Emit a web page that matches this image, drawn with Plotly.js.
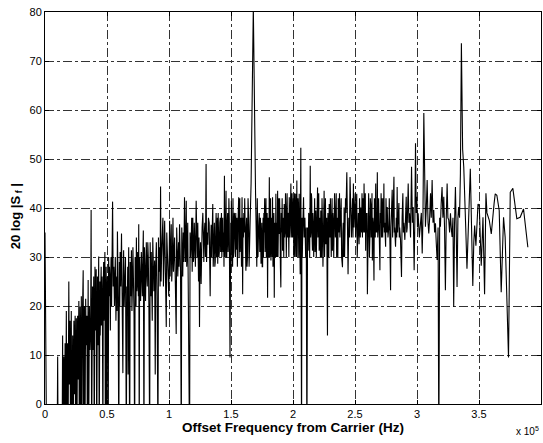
<!DOCTYPE html>
<html>
<head>
<meta charset="utf-8">
<script src="https://cdn.plot.ly/plotly-3.0.1.min.js"></script>
<style>
html,body{margin:0;padding:0;background:#fff;}
#chart{width:543px;height:443px;}
</style>
</head>
<body>
<div id="chart"></div>
<script>
// [offset frequency (kHz), 20 log |S_f| (dB)]; values below 0 dB fall off the plot bottom
const segLow = [
[0,35],[0.4,26.5],[0.8,15.8],[1.3,-10],[9.8,-10],[10.2,9.7],[10.6,-10],[13.8,-10],[14.2,14],[14.6,-10],
[15.2,9.7],[15.6,-10],[16.2,12.4],[16.6,-10],[17.2,19],[17.6,-10],[18.2,12.4],[18.6,-10],[19.2,25],[19.6,4],
[20.2,17],[20.6,-10],[21.2,19],[21.6,-10],[22.3,14],[22.7,-10],[23.3,17],[23.7,2],[24.3,18],[24.7,-10],
[25.3,17.5],[25.7,-10],[26.3,18],[26.7,5],[27.3,21],[27.7,-10],[28.3,19.9],[28.7,-10],[29.3,22],[29.7,-10],
[30.3,20],[30.8,27.3],[31.2,-10],[31.8,20],[32.2,-10],[32.8,21.5],[33.2,12],[33.8,18],[34.2,-10],[34.8,25.3],
[35.2,-10],[35.8,20],[36.3,11],[36.8,15],[37.2,39.6],[37.6,-10],[38.3,24],[38.7,11],[39.3,26],[39.7,-10],
[40.3,28],[40.7,15],[41.3,27.5],[41.7,-10],[42.3,26],[42.7,12],[43.3,30.1],[43.7,-10]
];
const segRise = [
[44.3,25],[44.5,14],[44.7,17],[45,24],[45.3,28],[45.5,16],[45.7,20],[46,26],[46.3,18],[46.7,-10],
[47,24],[47.3,29],[47.5,17],[47.7,20],[48,27],[48.3,31],[48.7,-10],[49,22],[49.3,28],[49.7,-10],
[50,21],[50.3,26],[50.7,18],[51,-10],[51.3,30],[51.7,22],[52,28],[52.3,25],[52.7,15],[53,26],
[53.3,30],[53.7,20],[54.1,27],[54.5,41.3],[55,24],[55.5,28],[56,20],[56.35,27],[56.7,30],[57.2,17],
[57.8,26],[58.1,19],[58.4,35.2],[59,22],[59.5,-10],[60,29],[60.3,20],[60.6,31],[61.1,24],[61.7,34.8],
[62.2,20],[62.8,6.3],[63.1,24],[63.4,31.4],[63.85,20],
[64.3,25],[64.9,30],[65.6,-10],[66,24],[66.4,20],[66.7,28],[67,6],[67.25,26],[67.5,32],[67.9,21],
[68.3,-10],[68.7,29],[69.1,22],[69.4,27],[69.7,31.4],[70.1,19],[70.5,24],[70.9,32],[71.3,28],[71.8,18],
[72.3,-10],[72.7,30],[73.1,27],[73.4,20],[73.7,34],[74.1,23],[74.5,25],[74.75,31],[75,29],[75.3,22],
[75.6,36.7],[76,-10],[76.3,30],[76.6,27],[77.1,21],[77.7,31],[78.1,26],[78.5,22],[78.9,30],[79.3,35.4],
[79.8,-10],[80.2,32],[80.6,28],[81.1,21],[81.7,33],[82.1,27],[82.5,24],[82.9,33],[83.3,30],[83.8,20],
[84.4,-10],[84.8,33],[85.2,27],[85.45,22],[85.7,31],[86.1,25],[86.5,17],[86.9,34],[87.3,30],[87.8,23],
[88.4,29.3],[88.9,6],[89.3,28],[89.8,33],[90.4,22],[91.1,-10],[91.5,34],[91.9,27],[92.4,32],[92.8,24],
[93.2,44.4],[93.6,25],[94,30],[94.5,34],[95.1,38],[95.5,24],[95.9,28],[96.2,33],[96.5,37.4],[97.1,27],
[97.8,15.7],[98.2,35],[98.6,30],[99.1,29],[99.8,22],[100.5,37.4],[100.9,26],[101.3,31],[101.8,36.7],[102.2,25],
[102.6,28],[103.2,38],[103.6,27],[104,30],[104.5,34],[105.1,25],[105.8,14.3],[106.2,36],[106.6,30],[107.1,26],
[107.7,33],[108.1,28],[108.5,36.7],[108.9,31],[109.3,27],[109.9,-10],[110.3,36],[110.7,30],[111.1,26],[111.5,35],
[112,29],[112.5,42.2],[112.9,33],[113.3,29],[113.9,41.5],[114.3,28],[114.7,31],[115.1,37],[115.5,25],[116.6,-10],
[117,35],[117.4,30],[117.9,33.2],[118.3,38],[118.7,27],[119.2,38],[119.6,29],[120,30],[120.4,37],[120.8,34],
[121.3,28],[121.9,41.5],[122.3,33],[122.7,30],[123.2,37],[123.8,25],[124.2,34],[124.6,15.7],[125,30],[125.4,33],
[125.9,24.5],[126.3,32],[126.7,36],[127.3,39],[127.7,31],[128.1,29],[128.5,35],[128.9,37],[129.4,30],[129.9,49],
[130.3,29],[130.8,35],[131.3,32.5],[131.8,38],[132.4,37],[132.8,30],[133.2,22],[133.6,33],[134,36.6],[134.4,30],
[134.8,33],[135.3,40.8]
];
const segMid = [
[135.65,28],[136,30],[136.3,34],[136.6,37],[136.95,28],[137.3,29],[137.65,35],[138,39],[138.35,30],[138.7,30],
[139,38],[139.3,28.6],[139.65,39],[140,36],[140.3,30],[140.6,31],[140.95,37],[141.3,38],[141.65,31],[142,34],
[142.3,39],[142.6,30],[142.95,35],[143.3,38],[143.65,31],[144,35],[144.35,28],[144.7,46.6],[145,31],[145.3,30],
[145.65,38],[146,43.5],[146.3,30],[146.6,30],[146.95,37],[147.3,39],[147.65,31],[148,34],[148.3,42],[148.6,38],
[149.2,9.5],[149.5,30],[149.8,37],[150.05,28],[150.3,41.5],[150.65,30],[151,36],[151.3,28],[151.6,42],[151.95,30],
[152.3,34],[152.65,39],[153,38],[153.3,31],[153.6,30],[153.85,39],[154.1,31.5],[154.45,35],[154.8,38],[155.15,28],
[155.5,35],[155.85,39],[156.2,42.2],[156.55,30],[156.9,36],[157.1,42],[157.3,31],[157.65,37],[158,38],[158.45,28],
[158.9,42.2],[159.4,22.4],[159.7,38],[160,34],[160.35,39],[160.7,35],[161.05,42],[161.4,30],[161.7,37],[162,27.2],
[162.3,36],[162.6,38],[162.95,28],[163.3,30],[163.75,42],[164.2,38],[164.6,28],[165,36],[165.5,38],[166.2,45],
[168,81],[169.8,43],[170.4,36],[170.8,28],[171.2,42],[171.75,30],[172.3,36],[172.75,39],[173.2,31],[173.7,38],
[174.2,28.6],[174.8,37],[175.15,28],[175.5,28],[175.85,38],[176.2,30],[176.5,39],[176.8,35],[177.15,42],[177.5,31],
[177.85,36],[178.2,42],[178.5,30],[178.8,34],[179.15,39],[179.5,21.7],[179.85,38],[180.2,35],[180.55,30],[180.9,46.3],
[181.25,30],[181.6,36],[181.9,42],[182.2,29.3],[182.55,36],[182.9,38],[183.2,30],[183.5,42.2],[183.85,28],[184.2,34],
[184.55,39],[184.9,21.7],[185.2,37],[185.5,36],[185.85,30],[186.2,42.9],[186.55,30],[186.9,37],[187.25,30],[187.6,43.5],
[187.9,30],[188.2,36],[188.55,42],[188.9,34.7],[189.2,42],[189.5,38],[189.85,28],[190.2,23.8],[190.55,39],[190.9,35],
[191.25,42],[191.6,31.3],[191.9,38],[192.2,37],[192.55,30],[192.9,40.8],[193.25,34],[193.6,35],[193.95,43],[194.3,39.5],
[194.6,30],[194.9,37],[195.25,43],[195.6,34],[195.95,39],[196.3,38],[196.65,30],[197,42.2],[197.3,34],[197.6,36],
[197.95,42],[198.3,45],[198.6,34],[198.9,37],[199.25,43],[199.6,34],[199.95,37]
];
const segUpper = [
[200.3,42],[200.65,30],[201,38],[201.3,43],[201.6,30],[201.95,37],[202.3,42.9],[202.7,30],[203.1,45.6],[203.35,30],
[203.6,35],[203.95,42],[204.3,39],[204.65,30],[205,42.9],[205.4,35],[205.8,26.5],[206.3,52.3],[206.9,-10],[207.2,38],
[207.5,30],[208,37],[208.5,42.2],[209,34],[209.6,38],[210.2,30],[210.7,36],[211.2,-10],[211.75,36],[212.3,31.3],
[212.65,39],[213,38],[213.45,30],[213.9,48.6],[214.2,34],[214.5,35],[214.8,43],[215.1,42],[215.4,34],[215.7,31.3],
[216,39],[216.3,37],[216.7,30],[217.1,36.7],[217.45,42],[217.8,31],[218.1,37],[218.4,39.5],[218.8,30],[219.2,35],
[219.5,42],[219.8,44.2],[220.1,34],[220.4,37],[220.75,43],[221.1,31.3],[221.45,36],[221.8,38],[222.1,30],[222.4,39.5],
[222.7,36],[223,30],[223.4,42],[223.8,36],[224.15,28],[224.5,42],[224.8,35],[225.1,43.5],[225.45,30],[225.8,35],
[226.15,42],[226.5,32.6],[226.85,37],[227.2,38],[227.8,14],[228.15,39],[228.5,36],[228.85,30],[229.2,40.8],[229.5,36],
[229.8,34],[230.15,42],[230.5,36],[230.85,30],[231.2,38],[231.5,42],[231.8,31.3],[232.15,39],[232.5,37],[232.85,30],
[233.2,36],[233.5,43],[233.8,39],[234.15,34],[234.5,38.1],[234.85,43],[235.2,30],[235.5,38],[235.8,36],[236.15,30],
[236.5,42],[236.85,35],[237.2,37.4],[237.5,43],[237.8,34],[238.15,37],[238.5,38.1],[238.85,42],[239.2,30],[239.9,27.9],
[240.2,35],[240.5,37],[240.85,30],[241.2,40.1],[241.6,30],[242,36],[242.35,42],[242.7,39],[243.4,47.3],[243.9,35],
[244.4,26.5],[245,38],[245.5,34],[246,46.3],[246.5,35],[246.8,39],[247.1,34],[247.55,38],[248,42],[248.35,34],
[248.7,45],[249.2,36],[249.5,42],[249.8,38.1],[250.15,43],[250.5,34],[250.95,39],[251.4,42.9],[251.8,30],[252.2,36],
[252.7,39],[253,36],[253.3,32.6],[253.65,42],[254,38],[254.3,34],[254.6,40.1],[254.95,36],[255.3,35],[255.65,43],
[256,34],[256.35,42],[256.7,39],[257,35],[257.3,45],[257.65,35],[258,37],[258.3,43],[258.6,31.3],[258.95,39],
[259.3,35],[259.65,39],[260,22.4],[260.35,37],[260.7,36],[261,43],[261.3,38.1],[261.65,30],[262,34],[262.35,42],
[262.7,40.8],[263.05,34],[263.4,36],[263.7,43],[264,29.3],[264.35,38],[264.7,37],[265,30],[265.3,25.2],[265.65,42],
[266,38],[266.35,34],[266.7,45],[267.05,35],[267.4,39],[267.7,35],[268,47.3],[268.35,34],[268.7,36],[269.05,42],
[269.4,31.3],[270.1,27.3],[270.4,39],[270.7,37],[271.05,43],[271.4,34],[271.7,42],[272,38.1],[272.35,34],[272.7,42],
[273,36],[273.3,45],[273.65,35],[274,37],[274.7,32.1],[275,42],[275.3,38],[275.65,35],[276,40.2],[276.6,34],
[277.3,36.2],[277.65,42],[278,31],[278.7,23.2],[279,36],[279.3,38],[280,43.7],[280.35,34],[280.7,37],[281.4,46.4],
[281.7,35],[282,36],[282.7,32.1],[283.3,38],[283.65,34],[284,44.3],[284.35,35],[284.7,37],[285.4,41],[285.7,34],
[286,36],[286.7,33.5],[287.5,25.9],[288,38],[288.6,43],[289,35],[289.4,37],[290.2,33.5],[290.8,38],[291.3,42.3],
[291.7,35],[292.1,36],[292.9,45],[293.5,37],[294,38.9],[294.8,34],[295.6,48.4],[296.3,37],[296.9,40.2],[297.7,27.3],
[298.3,38],[298.8,53.2],[299.4,39],[299.9,42.3]
];
const segHigh = [
[300.4,36],[300.9,38.9],[301.9,34],[302.8,36.2],[303.5,39],[304.2,30.7],[304.8,38],[305.5,59.4],[306.2,38],[306.8,36.2],
[307.5,40],[308.2,45.7],[308.9,37],[309.5,34.8],[310.2,38],[310.9,43],[311.5,38],[312.2,45.7],[312.9,37],[313.5,39.6],
[314.2,35],[314.9,36.9],[315.5,33],[316.2,29.4],[317,36],[317.6,-10],[318.3,38],[318.9,36.2],[319.5,41],[320.2,44.3],
[320.9,38],[321.6,42.3],[322.2,36],[322.9,23.2],[323.6,38],[324.3,45],[324.9,38],[325.6,37.6],[326.3,35],[327,38.9],
[327.6,36],[328.3,34.1],[329,38],[329.6,19.8],[330.3,37],[331,44.3],[331.6,36],[332.3,23.9],[333,38],[333.6,40.2],
[334.3,38],[335,47],[335.8,73.6],[336.8,52],[337.7,48.4],[338.4,40.1],[339.3,36],[340.3,27.6],[341.6,38],[343,48],
[344,36],[345,24.1],[345.8,33],[346.5,36.4],[347.5,32.3],[348.3,38],[349.2,40.8],[350.2,40.5],[351,35],[351.8,28.2],
[352.5,33],[353.2,38.1],[354.5,22.4],[355.6,43],[356.4,39],[357.2,38.1],[358.3,37.5],[359.9,34.7],[361.2,39],[362.2,41],
[363.1,42.9],[364.4,42.6],[366.3,39.5],[367.9,22.8],[369.8,38.1],[371.1,34],[373.8,9.5],[375.2,43.2],[377.3,44],[380.5,37.8],
[383.2,38.1],[385.9,39.8],[389.4,32]
];
const xTickVals = [0,50,100,150,200,250,300,350,400];
const xTickText = ['0','0.5','1','1.5','2','2.5','3','3.5','4'];
const yTickVals = [0,10,20,30,40,50,60,70,80];

const allPts = segLow.concat(segRise, segMid, segUpper, segHigh);
const fontFam = '"Liberation Sans", Arial, Helvetica, sans-serif';

const trace = {
  x: allPts.map(p => p[0]), y: allPts.map(p => p[1]),
  type: 'scatter', mode: 'lines',
  line: {color: '#000', width: 1.1}, hoverinfo: 'skip'
};

const axisCommon = {
  showline: true, linecolor: '#000', linewidth: 1, mirror: 'ticks',
  ticks: 'inside', ticklen: 4, tickcolor: '#000', tickwidth: 1,
  showgrid: true, gridcolor: '#333', gridwidth: 1, griddash: 'dashdot',
  zeroline: false, tickfont: {family: fontFam, size: 11, color: '#000'}
};

const layout = {
  width: 543, height: 443,
  margin: {l: 45, r: 2, t: 12, b: 39},
  paper_bgcolor: '#fff', plot_bgcolor: '#fff',
  showlegend: false,
  xaxis: Object.assign({}, axisCommon, {
    range: [0, 400], tickmode: 'array', tickvals: xTickVals, ticktext: xTickText
  }),
  yaxis: Object.assign({}, axisCommon, {
    range: [0, 80], tickmode: 'array', tickvals: yTickVals
  }),
  annotations: [
    {text: '<b>Offset Frequency from Carrier (Hz)</b>', xref: 'paper', yref: 'paper',
     x: 0.5, y: -0.0587, xanchor: 'center', yanchor: 'middle', showarrow: false,
     font: {family: fontFam, size: 13.5, color: '#000'}},
    {text: '<b>20 log |S<sub> f</sub> |</b>', xref: 'paper', yref: 'paper',
     x: -0.0575, y: 0.48, xanchor: 'center', yanchor: 'middle', textangle: -90, showarrow: false,
     font: {family: fontFam, size: 13, color: '#000'}},
    {text: 'x 10<sup>5</sup>', xref: 'paper', yref: 'paper',
     x: 1.0, y: -0.069, xanchor: 'right', yanchor: 'middle', showarrow: false,
     font: {family: fontFam, size: 10, color: '#000'}}
  ]
};

Plotly.newPlot('chart', [trace], layout, {displayModeBar: false, staticPlot: true});
</script>
</body>
</html>
